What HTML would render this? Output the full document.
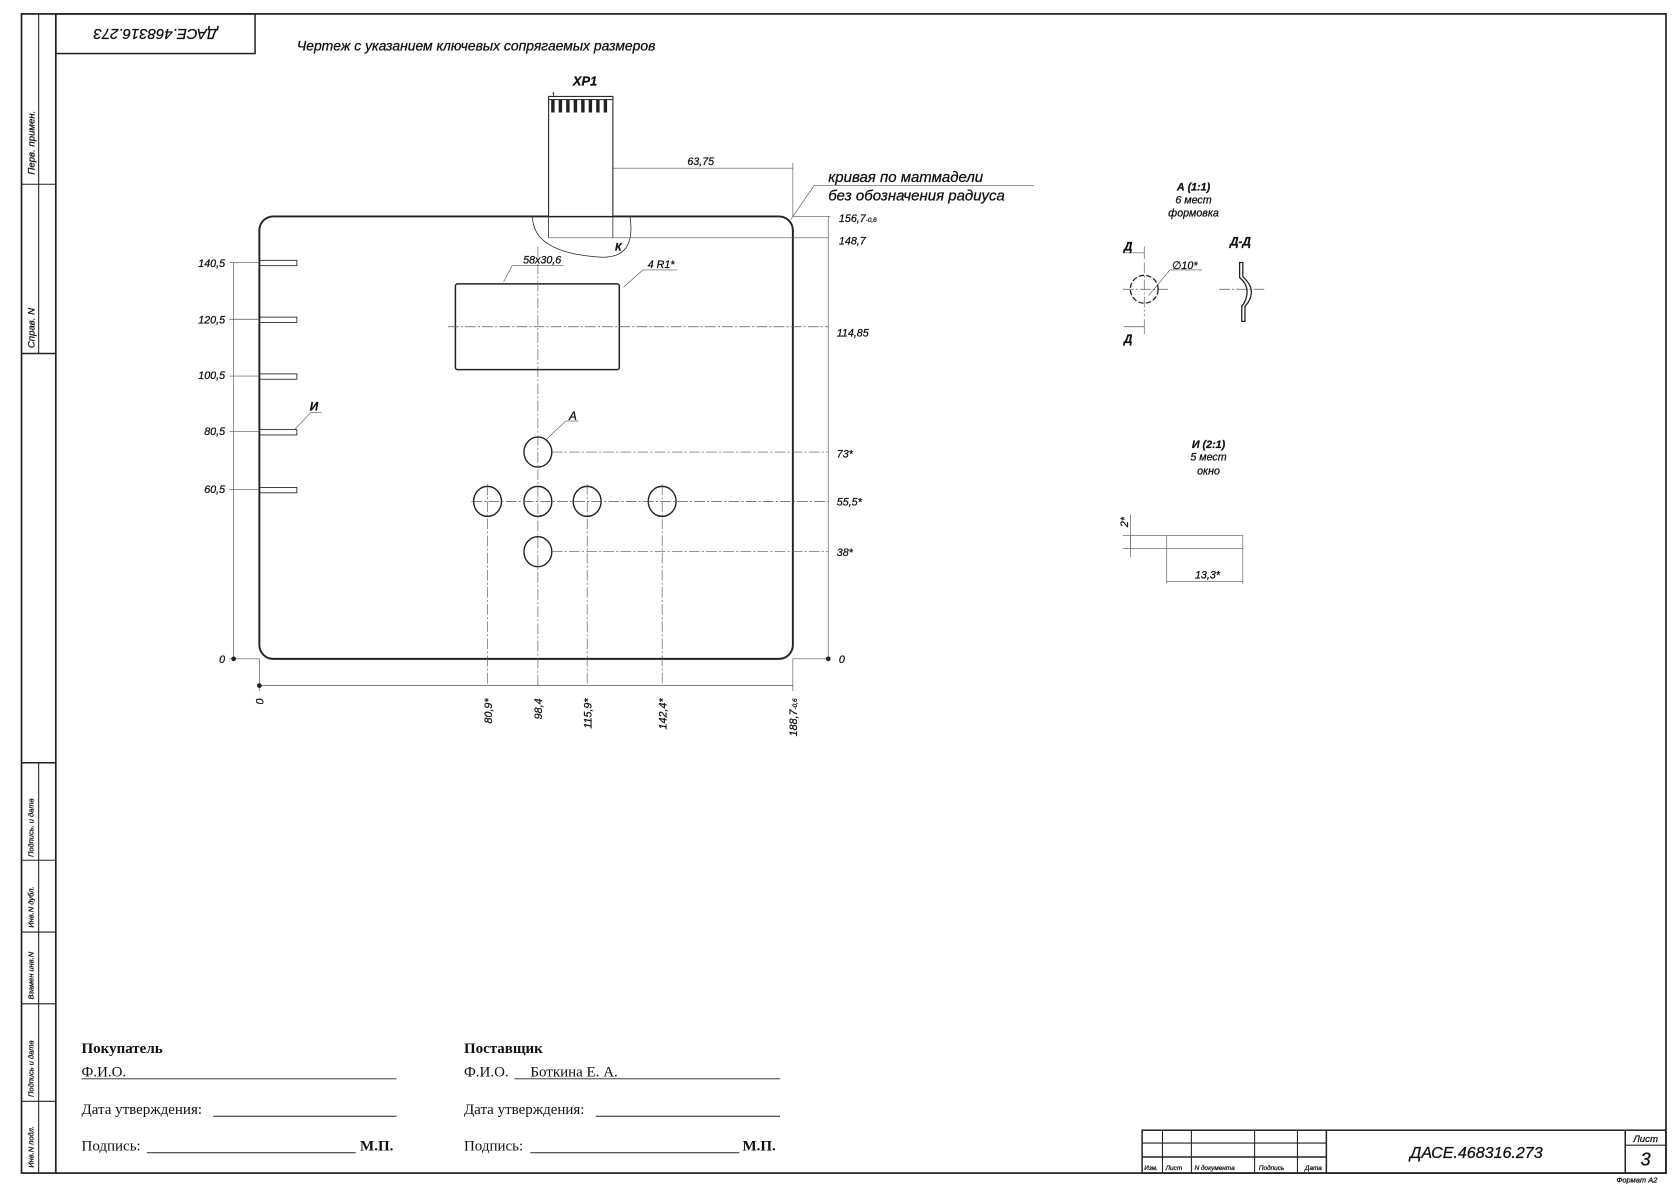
<!DOCTYPE html>
<html><head><meta charset="utf-8"><style>
html,body{margin:0;padding:0;background:#fff;width:1680px;height:1187px;overflow:hidden}
svg{display:block}
text{font-family:"Liberation Sans","DejaVu Sans",sans-serif;font-style:italic;fill:#111;stroke:#111;stroke-width:0.25}
.s{font-family:"Liberation Serif","DejaVu Serif",serif;font-style:normal;stroke:none}
</style></head><body>
<svg width="1680" height="1187" viewBox="0 0 1568 1108" xmlns="http://www.w3.org/2000/svg">
<g fill="none" stroke="#222" stroke-width="1">
<rect x="20" y="13" width="1535" height="1082" stroke-width="1.6"/>
<line x1="52" y1="13" x2="52" y2="1095" stroke-width="1.6"/>
<line x1="36" y1="13" x2="36" y2="330"/>
<line x1="20" y1="172" x2="52" y2="172"/>
<line x1="20" y1="330" x2="52" y2="330" stroke-width="1.4"/>
<line x1="36" y1="712" x2="36" y2="1095"/>
<line x1="20" y1="712" x2="52" y2="712" stroke-width="1.4"/>
<line x1="20" y1="803" x2="52" y2="803"/>
<line x1="20" y1="870" x2="52" y2="870"/>
<line x1="20" y1="937" x2="52" y2="937"/>
<line x1="20" y1="1028" x2="52" y2="1028"/>
<rect x="52" y="13" width="186" height="37" stroke-width="1.4"/>
<rect x="1066" y="1055" width="489" height="40" stroke-width="1.4"/>
<line x1="1085" y1="1055" x2="1085" y2="1095"/>
<line x1="1112" y1="1055" x2="1112" y2="1095"/>
<line x1="1171" y1="1055" x2="1171" y2="1095"/>
<line x1="1211" y1="1055" x2="1211" y2="1095"/>
<line x1="1238" y1="1055" x2="1238" y2="1095" stroke-width="1.4"/>
<line x1="1066" y1="1067" x2="1238" y2="1067"/>
<line x1="1066" y1="1080" x2="1238" y2="1080" stroke-width="1.4"/>
<line x1="1517" y1="1055" x2="1517" y2="1095" stroke-width="1.4"/>
<line x1="1517" y1="1069" x2="1555" y2="1069"/>
<rect x="242" y="202" width="498" height="413" rx="13" stroke-width="1.8"/>
<rect x="512" y="90" width="60" height="112" fill="#fff"/>
<line x1="512" y1="202" x2="512" y2="222" stroke-width="0.7"/>
<line x1="572" y1="202" x2="572" y2="222" stroke-width="0.7"/>
<path d="M497 202 Q497 236 560 240 Q594 242 588 202" stroke-width="0.7"/>
<g stroke-width="3.2"><line x1="516" y1="93" x2="516" y2="105"/><line x1="523" y1="93" x2="523" y2="105"/><line x1="530" y1="93" x2="530" y2="105"/><line x1="537" y1="93" x2="537" y2="105"/><line x1="544" y1="93" x2="544" y2="105"/><line x1="551" y1="93" x2="551" y2="105"/><line x1="558" y1="93" x2="558" y2="105"/><line x1="565" y1="93" x2="565" y2="105"/></g>
<line x1="512" y1="93" x2="572" y2="93"/>
<rect x="425" y="265" width="153" height="80" rx="2" stroke-width="1.4"/>
<g stroke-width="1.3">
<ellipse cx="502" cy="422" rx="13" ry="14"/><ellipse cx="455" cy="468" rx="13" ry="14"/><ellipse cx="502" cy="468" rx="13" ry="14"/><ellipse cx="548" cy="468" rx="13" ry="14"/><ellipse cx="618" cy="468" rx="13" ry="14"/><ellipse cx="502" cy="515" rx="13" ry="14"/>
</g>
<g stroke-width="0.8"><rect x="242" y="243" width="35" height="5"/><rect x="242" y="296" width="35" height="5"/><rect x="242" y="349" width="35" height="5"/><rect x="242" y="401" width="35" height="5"/><rect x="242" y="455" width="35" height="5"/></g>
</g>
<g fill="none" stroke="#555" stroke-width="0.6">
<g stroke-dasharray="10 2 2 2">
<line x1="418" y1="305" x2="773" y2="305"/>
<line x1="502" y1="230" x2="502" y2="640"/>
<line x1="515" y1="422" x2="773" y2="422"/>
<line x1="440" y1="468" x2="773" y2="468"/>
<line x1="515" y1="515" x2="773" y2="515"/>
<line x1="455" y1="452" x2="455" y2="640"/>
<line x1="548" y1="452" x2="548" y2="640"/>
<line x1="618" y1="452" x2="618" y2="640"/>
<line x1="1048" y1="270" x2="1090" y2="270"/><line x1="1068" y1="245" x2="1068" y2="295"/>
<line x1="1138" y1="270" x2="1182" y2="270"/>
</g>
<line x1="512" y1="222" x2="773" y2="222"/>
<line x1="572" y1="157" x2="740" y2="157"/>
<line x1="740" y1="152" x2="740" y2="202"/>
<line x1="740" y1="202" x2="775" y2="202"/>
<line x1="740" y1="615" x2="775" y2="615"/>
<line x1="773" y1="202" x2="773" y2="615"/>
<line x1="242" y1="615" x2="242" y2="645"/>
<line x1="740" y1="615" x2="740" y2="645"/>
<line x1="242" y1="640" x2="740" y2="640"/>
<line x1="218" y1="245" x2="218" y2="615"/>
<line x1="214" y1="245" x2="242" y2="245"/><line x1="214" y1="298" x2="242" y2="298"/><line x1="214" y1="351" x2="242" y2="351"/><line x1="214" y1="403" x2="242" y2="403"/><line x1="214" y1="457" x2="242" y2="457"/><line x1="214" y1="615" x2="242" y2="615"/>
<polyline points="738,205 760,173 965,173"/>
<polyline points="470,263 478,248 526,248"/>
<polyline points="582,268 600,252 632,252"/>
<polyline points="510,410 528,393 540,393"/>
<polyline points="275,401 290,385 300,385"/>
<polyline points="1072,276 1092,252 1122,252"/>
<line x1="1049" y1="236" x2="1068" y2="236"/><line x1="1068" y1="230" x2="1068" y2="242"/>
<line x1="1049" y1="305" x2="1068" y2="305"/><line x1="1068" y1="298" x2="1068" y2="312"/>
<rect x="1055" y="500" width="105" height="12"/>
<line x1="1089" y1="500" x2="1089" y2="545"/>
<line x1="1160" y1="512" x2="1160" y2="545"/>
<line x1="1089" y1="543" x2="1160" y2="543"/>
<line x1="1048" y1="500" x2="1055" y2="500"/><line x1="1048" y1="512" x2="1055" y2="512"/>
<line x1="1055" y1="480" x2="1055" y2="520"/>
</g>
<g stroke="#222" stroke-width="1.2" fill="none">
<circle cx="1068" cy="270" r="13" stroke-dasharray="5 2"/>
<path d="M1157 245 L1160 245 L1160 258 Q1168 266 1168 272 Q1168 280 1162 286 L1162 300 L1159 300 L1159 286 Q1164 280 1164 272 Q1164 265 1157 259 Z"/>
<line x1="76" y1="1007" x2="370" y2="1007" stroke-width="0.9"/><line x1="199" y1="1042" x2="370" y2="1042" stroke-width="0.9"/><line x1="137" y1="1076" x2="332" y2="1076" stroke-width="0.9"/>
<line x1="480" y1="1007" x2="728" y2="1007" stroke-width="0.9"/><line x1="556" y1="1042" x2="728" y2="1042" stroke-width="0.9"/><line x1="495" y1="1076" x2="690" y2="1076" stroke-width="0.9"/>
</g>
<g fill="#222"><circle cx="773" cy="615" r="2.2"/><circle cx="218" cy="615" r="2.2"/><circle cx="242" cy="640" r="2.2"/></g>
<text x="145" y="37" font-size="14" text-anchor="middle" transform="rotate(180 145 32)">ДАСЕ.468316.273</text>
<text x="277" y="47" font-size="13">Чертеж с указанием ключевых сопрягаемых размеров</text>
<text x="546" y="80" font-size="12" font-weight="bold" text-anchor="middle">XP1</text>
<text x="515" y="90" font-size="5">1</text>
<text x="654" y="154" font-size="10" text-anchor="middle">63,75</text>
<text x="773" y="170" font-size="14">кривая по матмадели</text>
<text x="773" y="187" font-size="14">без обозначения радиуса</text>
<text x="783" y="207" font-size="10">156,7<tspan font-size="6">-0,6</tspan></text>
<text x="783" y="228" font-size="10">148,7</text>
<text x="781" y="314" font-size="10">114,85</text>
<text x="781" y="427" font-size="10">73*</text>
<text x="781" y="472" font-size="10">55,5*</text>
<text x="781" y="519" font-size="10">38*</text>
<text x="783" y="619" font-size="10">0</text>
<text x="574" y="234" font-size="10" font-weight="bold">К</text>
<text x="506" y="246" font-size="10" text-anchor="middle">58x30,6</text>
<text x="617" y="250" font-size="10" text-anchor="middle">4 R1*</text>
<text x="531" y="392" font-size="11">А</text>
<text x="289" y="383" font-size="11" font-weight="bold">И</text>
<g font-size="10" text-anchor="end">
<text x="210" y="249">140,5</text><text x="210" y="302">120,5</text><text x="210" y="354">100,5</text><text x="210" y="406">80,5</text><text x="210" y="460">60,5</text><text x="210" y="619">0</text>
</g>
<g font-size="10" text-anchor="end">
<text transform="translate(246 652) rotate(-90)">0</text>
<text transform="translate(459 652) rotate(-90)">80,9*</text>
<text transform="translate(506 652) rotate(-90)">98,4</text>
<text transform="translate(552 652) rotate(-90)">115,9*</text>
<text transform="translate(622 652) rotate(-90)">142,4*</text>
<text transform="translate(744 652) rotate(-90)">188,7<tspan font-size="6">-0,6</tspan></text>
</g>
<g font-size="10" text-anchor="middle">
<text x="1114" y="178" font-weight="bold">А (1:1)</text><text x="1114" y="190">6 мест</text><text x="1114" y="202">формовка</text>
<text x="1128" y="418" font-weight="bold">И (2:1)</text><text x="1128" y="430">5 мест</text><text x="1128" y="443">окно</text>
<text x="1127" y="540">13,3*</text>
</g>
<text x="1049" y="234" font-size="11" font-weight="bold">Д</text>
<text x="1049" y="320" font-size="11" font-weight="bold">Д</text>
<text x="1148" y="229" font-size="11" font-weight="bold">Д-Д</text>
<text x="1094" y="251" font-size="10">∅10*</text>
<text transform="translate(1053 492) rotate(-90)" font-size="10">2*</text>
<g font-size="9">
<text transform="translate(32 163) rotate(-90)">Перв. примен.</text>
<text transform="translate(32 325) rotate(-90)">Справ. N</text>
<text transform="translate(31 800) rotate(-90)" font-size="7">Подпись. и дата</text>
<text transform="translate(31 866) rotate(-90)" font-size="7">Инв.N дубл.</text>
<text transform="translate(31 933) rotate(-90)" font-size="7">Взамен инв.N</text>
<text transform="translate(31 1024) rotate(-90)" font-size="7">Подпись и дата</text>
<text transform="translate(31 1090) rotate(-90)" font-size="7">Инв.N подл.</text>
</g>
<g font-size="14">
<text class="s" x="76" y="983" font-weight="bold">Покупатель</text>
<text class="s" x="76" y="1005">Ф.И.О.</text>
<text class="s" x="76" y="1040">Дата утверждения:</text>
<text class="s" x="76" y="1074">Подпись:</text>
<text class="s" x="336" y="1074" font-weight="bold">М.П.</text>
<text class="s" x="433" y="983" font-weight="bold">Поставщик</text>
<text class="s" x="433" y="1005">Ф.И.О.</text>
<text class="s" x="495" y="1005">Боткина Е. А.</text>
<text class="s" x="433" y="1040">Дата утверждения:</text>
<text class="s" x="433" y="1074">Подпись:</text>
<text class="s" x="693" y="1074" font-weight="bold">М.П.</text>
</g>
<g font-size="6">
<text x="1068" y="1092">Изм.</text><text x="1088" y="1092">Лист</text><text x="1115" y="1092">N документа</text><text x="1175" y="1092">Подпись</text><text x="1218" y="1092">Дата</text>
</g>
<text x="1378" y="1081" font-size="15" text-anchor="middle">ДАСЕ.468316.273</text>
<text x="1536" y="1066" font-size="9" text-anchor="middle">Лист</text>
<text x="1536" y="1088" font-size="17" text-anchor="middle">3</text>
<text x="1547" y="1104" font-size="7" text-anchor="end">Формат A2</text>
</svg>
</body></html>
